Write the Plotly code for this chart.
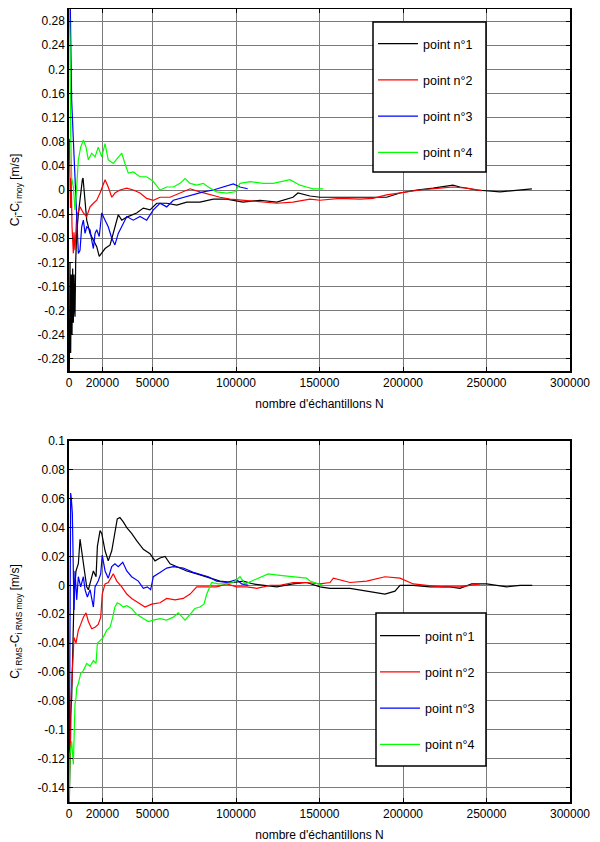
import plotly.graph_objects as go

# sample counts are stored in thousands of samples (k), values in m/s
# --- top chart : C_i - C_i moy ---
top_p1_k = [0.2, 0.6, 1.0, 1.4, 1.8, 2.2, 2.6, 3.0, 3.4, 3.6, 4.0, 4.6, 5.6, 6.6, 7.6, 8.0, 8.4,
            9.6, 10.6, 12.6, 14.6, 16.6, 18.1, 19.6, 21.6, 24.6, 26.5, 29.5, 31.6, 34.6, 40.5, 44.5,
            48.5, 52.5, 58.5, 64.5, 70.5, 78.4, 86.4, 94.4, 104.2, 114.4, 124.4, 134.1, 137.1, 144.3,
            150.3, 162.3, 178.3, 190.2, 198.2, 208.2, 218.0, 229.9, 234.1, 244.1, 258.1, 268.1, 277.2]
top_p1_v = [-0.30, -0.12, -0.27, -0.14, -0.24, -0.13, -0.22, -0.14, -0.20, -0.21, -0.12, -0.071, -0.04,
            -0.012, 0.005, 0.017, 0.02, -0.017, -0.05, -0.072, -0.083, -0.094, -0.11, -0.105, -0.097,
            -0.091, -0.072, -0.041, -0.05, -0.045, -0.038, -0.030, -0.033, -0.022, -0.022, -0.025,
            -0.020, -0.02, -0.015, -0.015, -0.02, -0.017, -0.02, -0.012, -0.005, -0.01, -0.012, -0.012,
            -0.012, -0.012, -0.005, 0.0, 0.003, 0.008, 0.005, 0.0, -0.003, -0.001, 0.002]

top_p2_k = [0.2, 0.5, 0.9, 1.3, 1.8, 2.6, 3.0, 3.6, 4.6, 6.6, 8.6, 10.6, 12.6, 14.6, 16.6, 18.6, 20.5,
            21.6, 23.5, 25.6, 27.5, 30.5, 34.6, 38.5, 42.5, 46.5, 50.5, 54.5, 60.5, 66.5, 72.5, 78.4,
            84.4, 90.4, 96.4, 104.2, 114.4, 124.4, 134.1, 144.3, 150.3, 162.3, 174.3, 182.0, 190.2,
            198.2, 210.2, 222.2, 229.9, 238.1, 247.1]
top_p2_v = [0.085, 0.03, -0.03, 0.02, -0.06, -0.105, -0.07, -0.1, -0.044, -0.028, -0.038, -0.044,
            -0.028, -0.022, -0.017, -0.005, 0.011, 0.017, 0.005, -0.012, -0.005, 0.0, 0.003, 0.0,
            -0.005, -0.014, -0.017, -0.012, -0.012, -0.005, 0.002, -0.003, -0.008, -0.012, -0.015,
            -0.017, -0.02, -0.022, -0.02, -0.015, -0.017, -0.014, -0.015, -0.014, -0.008, -0.005, 0.0,
            0.003, 0.005, 0.003, -0.001]

top_p3_k = [0.3, 0.8, 1.2, 1.6, 2.6, 3.6, 4.6, 5.6, 6.6, 7.6, 8.6, 9.6, 10.6, 12.6, 13.6, 14.6, 15.6,
            16.6, 18.1, 19.6, 21.6, 23.5, 25.6, 27.5, 29.5, 31.6, 34.6, 38.5, 42.5, 46.5, 50.5, 54.5,
            58.5, 62.5, 68.4, 74.4, 80.4, 86.4, 92.4, 98.4, 102.4, 107.0]
top_p3_v = [0.31, 0.30, 0.22, 0.149, 0.083, 0.022, -0.044, -0.105, -0.1, -0.061, -0.05, -0.072,
            -0.061, -0.066, -0.083, -0.097, -0.072, -0.066, -0.077, -0.038, -0.05, -0.061, -0.08,
            -0.091, -0.072, -0.061, -0.044, -0.05, -0.044, -0.05, -0.033, -0.022, -0.028, -0.017,
            -0.012, -0.008, -0.003, 0.0, 0.005, 0.01, 0.005, 0.002]

top_p4_k = [0.1, 0.6, 1.0, 1.6, 2.6, 3.6, 4.6, 5.6, 7.0, 8.6, 10.2, 11.6, 13.6, 15.6, 17.5, 19.6, 21.6,
            23.5, 26.5, 29.5, 31.6, 33.5, 35.5, 38.5, 42.5, 46.5, 50.5, 54.5, 58.5, 62.5, 66.5, 69.5,
            72.5, 76.5, 80.4, 83.4, 88.4, 94.4, 99.4, 102.4, 108.4, 116.3, 122.3, 132.3, 138.3, 142.3,
            146.1, 152.3]
top_p4_v = [0.31, 0.25, 0.094, 0.02, 0.005, -0.033, 0.005, 0.05, 0.071, 0.083, 0.071, 0.05, 0.061,
            0.055, 0.071, 0.055, 0.077, 0.05, 0.044, 0.055, 0.061, 0.044, 0.028, 0.03, 0.022, 0.022,
            0.014, 0.0, 0.005, 0.005, 0.011, 0.019, 0.011, 0.008, 0.011, 0.005, -0.003, -0.005, -0.003,
            0.011, 0.014, 0.011, 0.011, 0.017, 0.008, 0.005, 0.002, 0.002]

# --- bottom chart : C_i RMS - C_i RMS moy ---
bot_p1_k = [0.2, 0.6, 1.0, 1.6, 2.2, 3.0, 4.2, 5.6, 6.6, 7.6, 8.6, 9.6, 10.6, 11.6, 12.6, 13.6, 14.6,
            16.2, 17.0, 18.6, 19.6, 21.6, 23.5, 25.6, 27.5, 28.9, 30.5, 32.5, 34.6, 37.5, 40.5, 44.5,
            48.5, 51.5, 54.5, 57.5, 60.5, 64.5, 70.5, 76.5, 82.5, 90.4, 98.4, 104.4, 110.4, 118.4,
            124.4, 134.3, 142.3, 150.3, 156.3, 168.3, 178.3, 189.2, 195.2, 198.2, 206.2, 216.2, 228.1,
            234.1, 241.1, 250.1, 262.1, 270.1, 277.4]
bot_p1_v = [-0.15, -0.11, -0.09, -0.078, -0.043, -0.008, 0.010, 0.015, 0.032, 0.024, 0.015, 0.008,
            -0.001, -0.003, 0.001, 0.006, 0.01, 0.006, 0.027, 0.038, 0.036, 0.024, 0.017, 0.024, 0.038,
            0.046, 0.047, 0.044, 0.040, 0.036, 0.031, 0.025, 0.022, 0.017, 0.019, 0.020, 0.015, 0.013,
            0.010, 0.008, 0.006, 0.003, 0.002, 0.003, 0.001, 0.0, -0.001, 0.001, 0.002, -0.001,
            -0.002, -0.002, -0.004, -0.006, -0.004, 0.0, 0.0, -0.001, -0.001, -0.002, 0.001, 0.001,
            -0.001, 0.0, 0.0]

bot_p2_k = [0.2, 0.5, 1.0, 1.2, 2.2, 3.0, 4.2, 5.6, 7.0, 8.6, 10.2, 11.6, 13.6, 15.6, 17.5, 19.0,
            19.9, 21.6, 23.5, 25.6, 26.5, 28.6, 31.6, 34.6, 37.5, 41.5, 45.5, 49.5, 54.5, 58.5, 63.5,
            68.4, 72.5, 76.5, 80.4, 88.4, 94.4, 100.4, 106.4, 112.4, 120.4, 126.3, 134.3, 142.3,
            150.3, 156.3, 158.3, 168.3, 178.3, 189.2, 198.2, 206.2, 214.2, 224.1, 234.1, 240.1, 246.1]
bot_p2_v = [-0.13, -0.12, -0.104, -0.078, -0.054, -0.036, -0.040, -0.031, -0.027, -0.022, -0.019,
            -0.025, -0.030, -0.029, -0.027, -0.022, -0.006, 0.001, 0.002, 0.006, 0.008, 0.003, -0.001,
            -0.006, -0.009, -0.012, -0.015, -0.013, -0.012, -0.009, -0.010, -0.009, -0.006, -0.001,
            -0.001, -0.001, 0.001, -0.001, -0.001, -0.002, 0.0, 0.0, 0.002, 0.002, 0.001, 0.002, 0.005,
            0.002, 0.003, 0.006, 0.005, 0.001, 0.0, -0.001, -0.001, 0.0, 0.001]

bot_p3_k = [0.2, 0.6, 1.0, 1.4, 2.0, 2.6, 3.0, 3.6, 4.6, 5.6, 7.0, 8.6, 9.6, 11.0, 12.6, 14.6, 15.6,
            17.5, 19.0, 19.9, 21.6, 23.5, 25.6, 27.5, 29.5, 32.2, 34.6, 37.5, 41.5, 44.5, 46.9, 48.9,
            50.5, 54.5, 58.5, 62.5, 68.4, 74.4, 80.4, 83.4, 88.4, 94.4, 100.4, 103.4, 107.4]
bot_p3_v = [-0.12, -0.054, 0.064, 0.06, 0.05, 0.015, -0.017, 0.010, -0.010, 0.006, -0.001, 0.006,
            -0.003, -0.008, -0.003, -0.015, -0.001, 0.003, 0.008, 0.021, 0.010, 0.005, 0.013, 0.015,
            0.013, 0.016, 0.010, 0.006, 0.003, -0.002, -0.001, -0.003, 0.006, 0.009, 0.012, 0.013,
            0.012, 0.009, 0.007, 0.006, 0.003, 0.002, 0.004, 0.001, 0.0]

bot_p4_k = [0.1, 0.6, 1.6, 2.6, 3.6, 4.2, 4.6, 5.6, 7.0, 8.6, 10.6, 12.6, 14.6, 16.2, 17.0, 18.6,
            20.5, 22.6, 24.6, 26.2, 27.5, 28.9, 30.5, 32.5, 34.6, 37.5, 40.5, 44.5, 47.5, 50.5, 54.5,
            58.5, 62.5, 65.4, 69.5, 72.5, 75.4, 78.4, 80.8, 82.5, 85.4, 89.4, 94.4, 98.4, 102.4, 105.4,
            109.4, 114.4, 119.3, 126.3, 134.3, 142.3, 144.3, 150.3, 151.9]
bot_p4_v = [-0.15, -0.117, -0.108, -0.124, -0.082, -0.078, -0.071, -0.068, -0.061, -0.059, -0.054,
            -0.056, -0.052, -0.054, -0.040, -0.038, -0.036, -0.031, -0.029, -0.022, -0.015, -0.012,
            -0.013, -0.015, -0.014, -0.016, -0.020, -0.023, -0.025, -0.024, -0.023, -0.024, -0.022,
            -0.019, -0.024, -0.020, -0.016, -0.015, -0.013, -0.006, 0.002, 0.001, 0.001, 0.002, 0.006,
            0.001, 0.003, 0.006, 0.008, 0.007, 0.006, 0.005, 0.003, 0.001, 0.0]

names = ["point n°1", "point n°2", "point n°3", "point n°4"]
colors = ["#000000", "#ff0000", "#0000ff", "#00ff00"]

x_ticks = [0, 20000, 50000, 100000, 150000, 200000, 250000, 300000]
top_yticks = [-0.28, -0.24, -0.2, -0.16, -0.12, -0.08, -0.04, 0, 0.04, 0.08, 0.12, 0.16, 0.2, 0.24, 0.28]
top_ylabels = ["-0.28", "-0.24", "-0.2", "-0.16", "-0.12", "-0.08", "-0.04", "0",
               "0.04", "0.08", "0.12", "0.16", "0.2", "0.24", "0.28"]
bot_yticks = [-0.14, -0.12, -0.1, -0.08, -0.06, -0.04, -0.02, 0, 0.02, 0.04, 0.06, 0.08, 0.1]
bot_ylabels = ["-0.14", "-0.12", "-0.1", "-0.08", "-0.06", "-0.04", "-0.02", "0",
               "0.02", "0.04", "0.06", "0.08", "0.1"]

top_series = [(top_p1_k, top_p1_v), (top_p2_k, top_p2_v), (top_p3_k, top_p3_v), (top_p4_k, top_p4_v)]
bot_series = [(bot_p1_k, bot_p1_v), (bot_p2_k, bot_p2_v), (bot_p3_k, bot_p3_v), (bot_p4_k, bot_p4_v)]

FONT = "Liberation Sans, Arial, sans-serif"
FS = 12

# the page body keeps its default 8px margin, so the figure is laid out in page pixels minus 8
W, H, OFF = 592, 834, 8


def px_x(px):
    return (px - OFF) / W


def px_y(py):
    return 1 - (py - OFF) / H


fig = go.Figure()

for i, (k, v) in enumerate(top_series):
    fig.add_trace(go.Scatter(x=[n * 1000 for n in k], y=v, mode="lines", name=names[i],
                             line=dict(color=colors[i], width=1.2), legend="legend",
                             legendgroup=f"t{i}", xaxis="x", yaxis="y"))
for i, (k, v) in enumerate(bot_series):
    fig.add_trace(go.Scatter(x=[n * 1000 for n in k], y=v, mode="lines", name=names[i],
                             line=dict(color=colors[i], width=1.2), legend="legend2",
                             legendgroup=f"b{i}", xaxis="x2", yaxis="y2"))

# white legend boxes with a black frame (drawn as shapes, the legends sit on top)
for x0, y0, x1, y1 in [(373, 22, 486, 172), (376, 613, 486, 766)]:
    fig.add_shape(type="rect", xref="paper", yref="paper",
                  x0=px_x(x0), y0=px_y(y1), x1=px_x(x1), y1=px_y(y0),
                  fillcolor="white", line=dict(color="black", width=1.5), layer="above")

axis_style = dict(
    showline=True, linecolor="black", linewidth=1.5, mirror="allticks",
    ticks="inside", ticklen=4, tickcolor="black", automargin=False,
    showgrid=True, gridcolor="#7a7a7a", gridwidth=1, zeroline=False,
    tickfont=dict(family=FONT, size=FS, color="black"),
)

x_dom = [px_x(69), px_x(570)]
xtitle = dict(text="nombre d'échantillons N", standoff=10, font=dict(family=FONT, size=FS))
legend_style = dict(xanchor="left", yanchor="top", bgcolor="rgba(0,0,0,0)", borderwidth=0,
                    itemwidth=40, tracegroupgap=17, font=dict(family=FONT, size=12.5))
fig.update_layout(
    width=W, height=H,
    margin=dict(l=0, r=0, t=0, b=0),
    paper_bgcolor="white", plot_bgcolor="white",
    font=dict(family=FONT, size=FS, color="black"),
    xaxis=dict(domain=x_dom, anchor="y", range=[0, 300000], tickvals=x_ticks,
               ticktext=[str(t) for t in x_ticks], title=xtitle, **axis_style),
    yaxis=dict(domain=[px_y(371), px_y(9)], anchor="x", range=[-0.3, 0.3],
               tickvals=top_yticks, ticktext=top_ylabels,
               title=dict(text="C<sub>i</sub>-C<sub>i moy</sub> [m/s]", standoff=24,
                          font=dict(family=FONT, size=FS)), **axis_style),
    xaxis2=dict(domain=x_dom, anchor="y2", range=[0, 300000], tickvals=x_ticks,
                ticktext=[str(t) for t in x_ticks], title=xtitle, **axis_style),
    yaxis2=dict(domain=[px_y(802), px_y(441)], anchor="x2", range=[-0.15, 0.1],
                tickvals=bot_yticks, ticktext=bot_ylabels,
                title=dict(text="C<sub>i RMS</sub>-C<sub>i RMS moy</sub> [m/s]", standoff=24,
                           font=dict(family=FONT, size=FS)), **axis_style),
    legend=dict(x=px_x(373), y=px_y(29), **legend_style),
    legend2=dict(x=px_x(375), y=px_y(621), **legend_style),
)

fig.write_html("out.html")
